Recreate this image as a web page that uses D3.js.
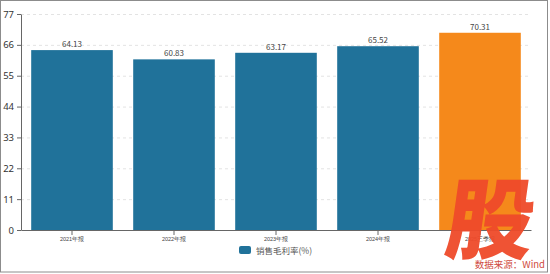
<!DOCTYPE html>
<html>
<head>
<meta charset="utf-8">
<script src="https://cdn.jsdelivr.net/npm/d3@7"></script>
<style>
  body { margin: 0; background: #fff; }
  svg { display: block; font-family: "Noto Sans CJK SC", "Noto Sans", sans-serif; }
</style>
</head>
<body>
<svg id="chart"></svg>
<script>
// data
var years = ["2021年报", "2022年报", "2023年报", "2024年报", "2025三季报"]
var values = [64.13, 60.83, 63.17, 65.52, 70.31]
var yTicks = [0, 11, 22, 33, 44, 55, 66, 77]
var seriesName = "销售毛利率(%)"

var width = 550, height = 274
var margin = {top: 14, right: 19, bottom: 44, left: 21}

var svg = d3.select("#chart")
    .attr("width", width)
    .attr("height", height)

// frame
svg.append("rect")
    .attr("x", 0.5).attr("y", 0.5)
    .attr("width", 547).attr("height", 271.5)
    .attr("fill", "#fff")
    .attr("stroke", "#8c8c8c")

var x = d3.scaleBand()
    .domain(years)
    .range([margin.left, width - margin.right])
    .paddingInner(0.2)
    .paddingOuter(0.1)

var y = d3.scaleLinear()
    .domain([0, 77])
    .range([height - margin.bottom, margin.top])

// grid
svg.append("g")
    .selectAll("line")
    .data(yTicks.slice(1))
    .enter()
    .append("line")
      .attr("x1", margin.left)
      .attr("x2", width - margin.right)
      .attr("y1", function(d){ return y(d) + 0.5 })
      .attr("y2", function(d){ return y(d) + 0.5 })
      .attr("stroke", "#e3e3e3")
      .attr("stroke-dasharray", "3,3")

// bars
svg.append("g")
    .selectAll("rect")
    .data(values)
    .enter()
    .append("rect")
      .attr("x", function(d, i){ return x(years[i]) })
      .attr("y", function(d){ return y(d) })
      .attr("width", x.bandwidth())
      .attr("height", function(d){ return y(0) - y(d) })
      .attr("fill", function(d, i){ return i == values.length - 1 ? "#f5891b" : "#20729a" })

// value labels
svg.append("g")
    .selectAll("text")
    .data(values)
    .enter()
    .append("text")
      .attr("x", function(d, i){ return x(years[i]) + x.bandwidth() / 2 })
      .attr("y", function(d){ return y(d) - 3 })
      .attr("text-anchor", "middle")
      .attr("font-size", "8px")
      .style("fill", "#444")
      .text(function(d){ return d.toFixed(2) })

// axes
var yAxis = svg.append("g")
    .attr("transform", "translate(" + margin.left + ",0)")
    .call(d3.axisLeft(y).tickValues(yTicks).tickSize(4).tickSizeOuter(0))
yAxis.select(".domain").attr("stroke", "#666")
yAxis.selectAll(".tick line").attr("stroke", "#666")
yAxis.selectAll("text").attr("font-size", "9.5px").attr("fill", "#333")
    .attr("font-family", "'Noto Sans', sans-serif")

var xAxis = svg.append("g")
    .attr("transform", "translate(0," + y(0) + ")")
    .call(d3.axisBottom(x).tickSize(5).tickSizeOuter(0))
xAxis.select(".domain").attr("stroke", "#666")
xAxis.selectAll(".tick line").attr("stroke", "#666")
xAxis.selectAll("text").attr("font-size", "5.5px").attr("fill", "#444").attr("dy", "0.5em")

// legend
var legend = svg.append("g").attr("transform", "translate(239,246)")
legend.append("rect")
    .attr("width", 12).attr("height", 8).attr("rx", 2)
    .attr("fill", "#20729a")
legend.append("text")
    .attr("x", 17).attr("y", 7.5)
    .attr("font-size", "8.5px")
    .style("fill", "#555")
    .text(seriesName)

// watermark
svg.append("text")
    .attr("x", 487).attr("y", 252)
    .attr("text-anchor", "middle")
    .attr("font-size", "88px")
    .attr("font-weight", "900")
    .attr("transform", "skewX(-8) translate(35,0)")
    .style("fill", "#ef4a2a")
    .style("opacity", 0.95)
    .text("股")

svg.append("text")
    .attr("x", 545).attr("y", 268)
    .attr("text-anchor", "end")
    .attr("font-size", "9.5px")
    .style("fill", "#cf4a40")
    .text("数据来源：Wind")
</script>
</body>
</html>
